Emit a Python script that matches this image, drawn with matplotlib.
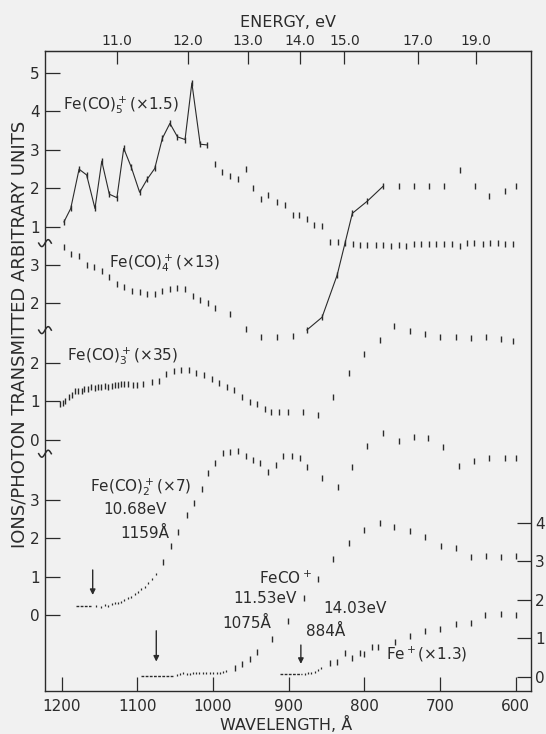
import numpy as np
import matplotlib
matplotlib.use("Agg")
import matplotlib.pyplot as plt
from matplotlib.transforms import blended_transform_factory

# ---- data (wavelength in Angstrom, value in each trace's own units)
fe5_line_lam = [1197, 1188, 1177, 1167, 1156, 1147, 1137, 1127, 1118, 1108,
                1097, 1087, 1077, 1067, 1057, 1047, 1037, 1028, 1017, 1008]
fe5_line_val = [1.12, 1.47, 2.49, 2.34, 1.47, 2.70, 1.84, 1.75, 3.03, 2.54,
                1.89, 2.23, 2.51, 3.29, 3.68, 3.33, 3.26, 4.73, 3.14, 3.12]
fe5_lam = [998, 988, 977, 967, 957, 947, 937, 927, 916, 905, 895, 886, 876, 866, 856,
           846, 835, 826, 815, 806, 796, 785, 775, 765, 755, 745, 734, 725, 715, 705,
           695, 685, 674, 664, 655, 644, 634, 624, 614, 604]
fe5_val = [2.62, 2.42, 2.31, 2.23, 2.49, 1.99, 1.71, 1.82, 1.64, 1.56, 1.31, 1.31, 1.19, 1.04, 1.02,
           0.59, 0.59, 0.58, 0.55, 0.52, 0.52, 0.52, 0.52, 0.50, 0.52, 0.50, 0.55, 0.54, 0.55, 0.55,
           0.55, 0.55, 0.50, 0.56, 0.56, 0.54, 0.56, 0.56, 0.55, 0.54]

fe4_lam = [1197, 1187, 1177, 1167, 1157, 1147, 1137, 1127, 1117, 1107, 1097, 1087, 1077,
           1067, 1057, 1047, 1037, 1027, 1017, 1007, 997, 977, 957, 937, 916, 895]
fe4_val = [3.45, 3.27, 3.23, 2.99, 2.93, 2.83, 2.67, 2.49, 2.42, 2.32, 2.29, 2.23, 2.23,
           2.30, 2.36, 2.39, 2.36, 2.18, 2.08, 1.99, 1.86, 1.71, 1.32, 1.12, 1.12, 1.14]
fe4_line_lam = [876, 856, 836, 816, 796, 775]
fe4_line_val = [1.30, 1.63, 2.73, 4.33, 4.65, 5.04]
fe4_tail_lam = [755, 734, 715, 695, 674, 654, 635, 614, 600]
fe4_tail_val = [5.04, 5.04, 5.04, 5.04, 5.45, 5.04, 4.79, 4.91, 5.04]

fe3_lam = [1202, 1198, 1195, 1190, 1186, 1182, 1178, 1173, 1170, 1165,
           1161, 1156, 1152, 1148, 1143, 1139, 1134, 1130, 1126, 1121,
           1117, 1112, 1106, 1101, 1093, 1081, 1072, 1062, 1052, 1042,
           1032, 1022, 1012, 1002, 992, 982, 972, 962, 951, 942,
           932, 923, 913, 901, 881, 861, 841, 820, 801, 780,
           761, 740, 720, 700, 679, 659, 639, 619, 604]
fe3_val = [0.94, 0.97, 1.02, 1.12, 1.17, 1.27, 1.27, 1.27, 1.32, 1.32,
           1.37, 1.34, 1.37, 1.37, 1.40, 1.38, 1.40, 1.43, 1.43, 1.45,
           1.45, 1.45, 1.43, 1.43, 1.45, 1.51, 1.54, 1.71, 1.79, 1.82,
           1.82, 1.75, 1.69, 1.58, 1.49, 1.37, 1.30, 1.12, 0.99, 0.94,
           0.80, 0.74, 0.74, 0.74, 0.74, 0.65, 1.12, 1.73, 2.23, 2.60,
           2.96, 2.84, 2.75, 2.68, 2.68, 2.66, 2.68, 2.62, 2.58]

fe2_base = ([1181, 1161], [0.23, 0.23])
fe2_lam = [1154, 1148, 1143, 1139, 1134, 1130, 1126, 1121, 1117, 1112, 1108, 1103, 1099,
           1095, 1090, 1086, 1081, 1076, 1066, 1056, 1046, 1035, 1025, 1015, 1007, 997,
           987, 977, 967, 957, 947, 938, 927, 917, 907, 896, 885, 876, 856, 835, 816,
           796, 776, 755, 735, 716, 696, 675, 655, 635, 615, 600]
fe2_val = [0.23, 0.22, 0.26, 0.23, 0.29, 0.30, 0.32, 0.35, 0.39, 0.43, 0.48, 0.54, 0.61,
           0.67, 0.74, 0.82, 0.94, 1.06, 1.38, 1.79, 2.16, 2.60, 2.90, 3.26, 3.70, 3.96,
           4.20, 4.24, 4.27, 4.13, 4.03, 3.96, 3.72, 3.90, 4.14, 4.12, 4.07, 3.85, 3.57, 3.33, 3.85,
           4.40, 4.74, 4.52, 4.63, 4.59, 4.36, 3.87, 4.00, 4.07, 4.09, 4.09]

feco_base = ([1095, 1053], [0.03, 0.03])
feco_lam = [1048, 1044, 1040, 1035, 1031, 1026, 1022, 1018, 1013, 1009, 1004, 1000, 995,
            991, 987, 983, 971, 962, 951, 942, 922, 901, 880, 861, 841, 820, 801, 780,
            761, 740, 720, 699, 679, 659, 640, 620, 600]
feco_val = [0.05, 0.08, 0.10, 0.07, 0.08, 0.10, 0.10, 0.10, 0.11, 0.11, 0.11, 0.11, 0.11,
            0.11, 0.14, 0.16, 0.23, 0.33, 0.46, 0.66, 0.98, 1.46, 2.04, 2.54, 3.06, 3.49, 3.82, 4.01,
            3.89, 3.79, 3.63, 3.40, 3.34, 3.12, 3.14, 3.12, 3.15]

fe_base = ([912, 883], [0.07, 0.07])
fe_lam = [879, 874, 870, 865, 861, 857, 846, 836, 826, 816, 806, 801, 790, 782, 760,
          740, 720, 700, 679, 659, 641, 620, 600]
fe_val = [0.08, 0.10, 0.11, 0.14, 0.18, 0.23, 0.36, 0.40, 0.62, 0.49, 0.62, 0.60, 0.79, 0.79, 0.92,
          1.06, 1.20, 1.24, 1.38, 1.41, 1.61, 1.64, 1.61]

# vertical offsets of each stacked trace (common unit height)
OFF = {"fe5": 10.70, "fe4": 7.714, "fe3": 6.156, "fe2": 1.61, "feco": 0.0}
left_ticks = {"fe5": [1, 2, 3, 4, 5], "fe4": [2, 3], "fe3": [0, 1, 2], "fe2": [0, 1, 2, 3]}
right_ticks = [0, 1, 2, 3, 4]
breaks_y = [11.27, 9.01, 5.80]
energy_ticks = [11, 12, 13, 14, 15, 17, 19]
wl_ticks = [1200, 1100, 1000, 900, 800, 700, 600]

INK = "#2b2b2b"
BG = "#f1f1f1"
plt.rcParams["font.family"] = "DejaVu Sans"
plt.rcParams["mathtext.fontset"] = "dejavusans"

fig = plt.figure(figsize=(5.46, 7.34), dpi=100, facecolor=BG)
ax = fig.add_axes([45 / 546, 43 / 734, 486 / 546, 640 / 734])
ax.set_facecolor(BG)
ax.set_xlim(1222, 580)
ax.set_ylim(-0.364, 16.26)

def tick(lam, val, off, ms=4.2, mew=1.0):
    ax.plot(lam, np.asarray(val) + off, ls="none", marker="|", ms=ms, mew=mew, color=INK)

# Fe(CO)5+
ax.plot(fe5_line_lam, np.asarray(fe5_line_val) + OFF["fe5"], color=INK, lw=0.8,
        marker="|", ms=4.2, mew=1.0)
tick(fe5_lam, fe5_val, OFF["fe5"])
# Fe(CO)4+
tick(fe4_lam, fe4_val, OFF["fe4"])
ax.plot(fe4_line_lam, np.asarray(fe4_line_val) + OFF["fe4"], color=INK, lw=0.8,
        marker="|", ms=4.2, mew=1.0)
tick(fe4_tail_lam, fe4_tail_val, OFF["fe4"])
# Fe(CO)3+
tick(fe3_lam, fe3_val, OFF["fe3"], ms=3.8)
# Fe(CO)2+
ax.plot(fe2_base[0], np.asarray(fe2_base[1]) + OFF["fe2"], color=INK, lw=1.0, ls=(0, (2, 1)))
lam2 = np.asarray(fe2_lam)
val2 = np.asarray(fe2_val)
tick(lam2[lam2 > 1070], val2[lam2 > 1070], OFF["fe2"], ms=2.0, mew=0.9)
tick(lam2[lam2 <= 1070], val2[lam2 <= 1070], OFF["fe2"])
# FeCO+
ax.plot(feco_base[0], feco_base[1], color=INK, lw=1.0, ls=(0, (2, 1)))
lamc = np.asarray(feco_lam)
valc = np.asarray(feco_val)
tick(lamc[lamc > 975], valc[lamc > 975], 0, ms=2.0, mew=0.9)
tick(lamc[lamc <= 975], valc[lamc <= 975], 0)
# Fe+
ax.plot(fe_base[0], fe_base[1], color=INK, lw=1.0, ls=(0, (2, 1)))
lamf = np.asarray(fe_lam)
valf = np.asarray(fe_val)
tick(lamf[lamf > 850], valf[lamf > 850], 0, ms=2.0, mew=0.9)
tick(lamf[lamf <= 850], valf[lamf <= 850], 0)

# arrows at the appearance thresholds
for lam, y0, y1 in [(1159, 2.78, 2.13), (1075, 1.20, 0.40), (884, 0.83, 0.34)]:
    ax.annotate("", xy=(lam, y1), xytext=(lam, y0),
                arrowprops=dict(arrowstyle="-|>", color=INK, lw=1.0,
                                mutation_scale=8, shrinkA=0, shrinkB=0))

# labels
fs = 11
ax.text(1122, 14.86, r"Fe(CO)$_5^+$(×1.5)", ha="center", va="center", fontsize=fs, color=INK)
ax.text(1064, 10.75, r"Fe(CO)$_4^+$(×13)", ha="center", va="center", fontsize=fs, color=INK)
ax.text(1120, 8.34, r"Fe(CO)$_3^+$(×35)", ha="center", va="center", fontsize=fs, color=INK)
ax.text(1095, 4.94, r"Fe(CO)$_2^+$(×7)", ha="center", va="center", fontsize=fs, color=INK)
ax.text(1103, 4.36, "10.68eV", ha="center", va="center", fontsize=fs, color=INK)
ax.text(1090, 3.74, "1159Å", ha="center", va="center", fontsize=fs, color=INK)
ax.text(905, 2.57, r"FeCO$^+$", ha="center", va="center", fontsize=fs, color=INK)
ax.text(931, 2.03, "11.53eV", ha="center", va="center", fontsize=fs, color=INK)
ax.text(955, 1.40, "1075Å", ha="center", va="center", fontsize=fs, color=INK)
ax.text(813, 1.78, "14.03eV", ha="center", va="center", fontsize=fs, color=INK)
ax.text(851, 1.18, "884Å", ha="center", va="center", fontsize=fs, color=INK)
ax.text(718, 0.60, r"Fe$^+$(×1.3)", ha="center", va="center", fontsize=fs, color=INK)

# left axis: stacked scales
pos, lab = [], []
for key, vals in left_ticks.items():
    for v in vals:
        pos.append(v + OFF[key])
        lab.append(str(v))
ax.set_yticks(pos, lab)
ax.set_xticks(wl_ticks, [str(w) for w in wl_ticks])
ax.tick_params(axis="y", direction="in", length=11, width=0.9, pad=4, labelsize=11,
               colors=INK)
ax.tick_params(axis="x", direction="in", length=10, width=0.9, pad=6, labelsize=11,
               colors=INK)
for s in ax.spines.values():
    s.set_color(INK)
    s.set_linewidth(1.0)

# break marks (small wiggles) on the left axis
tr = blended_transform_factory(ax.transAxes, ax.transData)
wx = np.linspace(-0.013, 0.013, 30)
for yb in breaks_y:
    ax.plot(wx, yb + 0.09 * np.sin(wx / 0.013 * np.pi), transform=tr, color=INK,
            lw=1.1, clip_on=False)

# right axis for FeCO+ and Fe+
ax2 = ax.twinx()
ax2.set_ylim(ax.get_ylim())
ax2.set_yticks(right_ticks, [str(v) for v in right_ticks])
ax2.tick_params(axis="y", direction="in", length=10, width=0.9, pad=3, labelsize=11,
                colors=INK)
for s in ax2.spines.values():
    s.set_visible(False)

# top energy axis
conv = lambda x: 12398.4 / np.asarray(x, dtype=float)
sec = ax.secondary_xaxis("top", functions=(conv, conv))
sec.set_xticks(energy_ticks, [f"{e:.1f}" for e in energy_ticks])
sec.tick_params(direction="in", length=9.5, width=0.9, pad=2, labelsize=10, colors=INK)
sec.spines["top"].set_color(INK)
sec.set_xlabel("ENERGY, eV", fontsize=11.5, color=INK, labelpad=5)

fig.text(286 / 546, 1 - 724 / 734, "WAVELENGTH, Å", ha="center", va="center",
         fontsize=11.5, color=INK)
fig.text(20 / 546, 1 - 334 / 734, "IONS/PHOTON TRANSMITTED ARBITRARY UNITS",
         rotation=90, ha="center", va="center", fontsize=13, color=INK)

fig.savefig("out.png", dpi=100, facecolor=BG)
